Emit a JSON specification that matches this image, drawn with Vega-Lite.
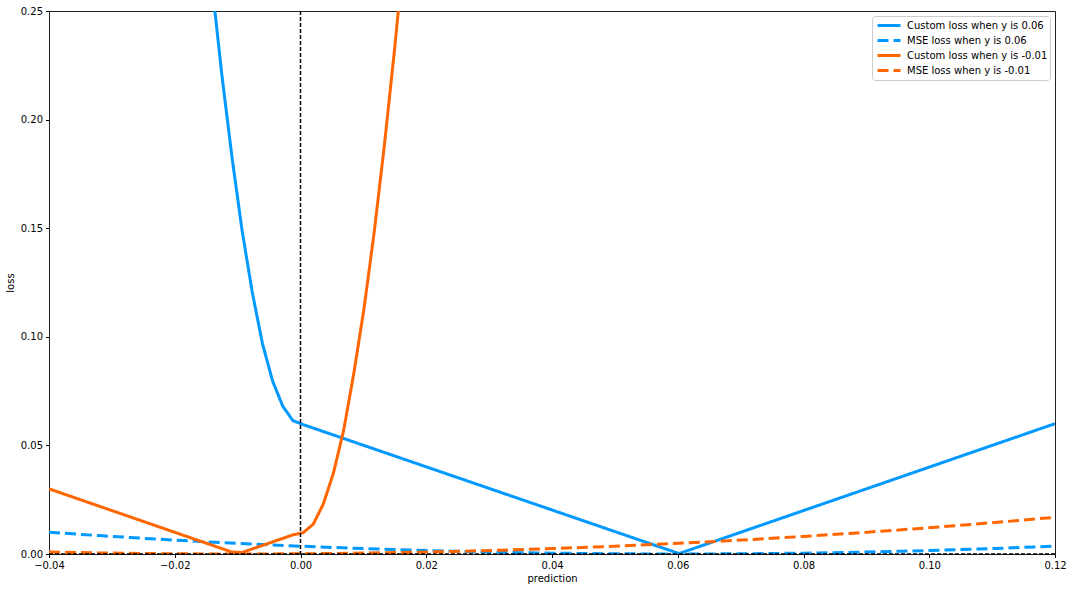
{
  "$schema": "https://vega.github.io/schema/vega-lite/v6.json",
  "width": 1006,
  "height": 543,
  "autosize": {"type": "none"},
  "padding": {"left": 49, "top": 11, "right": 17, "bottom": 38},
  "background": "white",
  "config": {
    "font": "DejaVu Sans",
    "view": {"stroke": "#222", "strokeWidth": 1},
    "axis": {
      "grid": false,
      "domain": false,
      "tickColor": "black",
      "tickSize": 3.5,
      "tickWidth": 1,
      "labelFontSize": 10,
      "labelColor": "black",
      "labelPadding": 3,
      "labelFlush": false,
      "labelOverlap": false,
      "titleFontSize": 10,
      "titleFontWeight": "normal",
      "titleColor": "black"
    },
    "legend": {
      "labelFontSize": 10,
      "labelColor": "black",
      "symbolStrokeWidth": 3,
      "symbolType": "stroke",
      "symbolSize": 529,
      "symbolOffset": 2,
      "rowPadding": 0,
      "clipHeight": 15,
      "fillColor": "rgba(255,255,255,0.8)",
      "strokeColor": "#cccccc",
      "cornerRadius": 3,
      "padding": 2,
      "labelOffset": 5
    }
  },
  "layer": [
    {
      "data": {
        "values": [
          {"series": "Custom loss when y is 0.06", "prediction": -0.0141414, "loss": 0.264},
          {"series": "Custom loss when y is 0.06", "prediction": -0.0125253, "loss": 0.221},
          {"series": "Custom loss when y is 0.06", "prediction": -0.0109091, "loss": 0.183},
          {"series": "Custom loss when y is 0.06", "prediction": -0.0092929, "loss": 0.149},
          {"series": "Custom loss when y is 0.06", "prediction": -0.0076768, "loss": 0.1206},
          {"series": "Custom loss when y is 0.06", "prediction": -0.0060606, "loss": 0.097},
          {"series": "Custom loss when y is 0.06", "prediction": -0.0044444, "loss": 0.0797},
          {"series": "Custom loss when y is 0.06", "prediction": -0.0028283, "loss": 0.0681},
          {"series": "Custom loss when y is 0.06", "prediction": -0.0012121, "loss": 0.0614},
          {"series": "Custom loss when y is 0.06", "prediction": 0.000404, "loss": 0.0596},
          {"series": "Custom loss when y is 0.06", "prediction": 0.060202, "loss": 0.0002},
          {"series": "Custom loss when y is 0.06", "prediction": 0.12, "loss": 0.06},

          {"series": "MSE loss when y is 0.06", "prediction": -0.04, "loss": 0.01},
          {"series": "MSE loss when y is 0.06", "prediction": -0.032, "loss": 0.008464},
          {"series": "MSE loss when y is 0.06", "prediction": -0.024, "loss": 0.007056},
          {"series": "MSE loss when y is 0.06", "prediction": -0.016, "loss": 0.005776},
          {"series": "MSE loss when y is 0.06", "prediction": -0.008, "loss": 0.004624},
          {"series": "MSE loss when y is 0.06", "prediction": 0.0, "loss": 0.0036},
          {"series": "MSE loss when y is 0.06", "prediction": 0.008, "loss": 0.002704},
          {"series": "MSE loss when y is 0.06", "prediction": 0.016, "loss": 0.001936},
          {"series": "MSE loss when y is 0.06", "prediction": 0.024, "loss": 0.001296},
          {"series": "MSE loss when y is 0.06", "prediction": 0.032, "loss": 0.000784},
          {"series": "MSE loss when y is 0.06", "prediction": 0.04, "loss": 0.0004},
          {"series": "MSE loss when y is 0.06", "prediction": 0.048, "loss": 0.000144},
          {"series": "MSE loss when y is 0.06", "prediction": 0.056, "loss": 0.000016},
          {"series": "MSE loss when y is 0.06", "prediction": 0.064, "loss": 0.000016},
          {"series": "MSE loss when y is 0.06", "prediction": 0.072, "loss": 0.000144},
          {"series": "MSE loss when y is 0.06", "prediction": 0.08, "loss": 0.0004},
          {"series": "MSE loss when y is 0.06", "prediction": 0.088, "loss": 0.000784},
          {"series": "MSE loss when y is 0.06", "prediction": 0.096, "loss": 0.001296},
          {"series": "MSE loss when y is 0.06", "prediction": 0.104, "loss": 0.001936},
          {"series": "MSE loss when y is 0.06", "prediction": 0.112, "loss": 0.002704},
          {"series": "MSE loss when y is 0.06", "prediction": 0.12, "loss": 0.0036},

          {"series": "Custom loss when y is -0.01", "prediction": -0.04, "loss": 0.03},
          {"series": "Custom loss when y is -0.01", "prediction": -0.0109091, "loss": 0.0009},
          {"series": "Custom loss when y is -0.01", "prediction": -0.0092929, "loss": 0.0007},
          {"series": "Custom loss when y is -0.01", "prediction": -0.0012121, "loss": 0.0088},
          {"series": "Custom loss when y is -0.01", "prediction": 0.000404, "loss": 0.0098},
          {"series": "Custom loss when y is -0.01", "prediction": 0.0020202, "loss": 0.0137},
          {"series": "Custom loss when y is -0.01", "prediction": 0.0036364, "loss": 0.0231},
          {"series": "Custom loss when y is -0.01", "prediction": 0.0052525, "loss": 0.0374},
          {"series": "Custom loss when y is -0.01", "prediction": 0.0068687, "loss": 0.057},
          {"series": "Custom loss when y is -0.01", "prediction": 0.0084848, "loss": 0.0833},
          {"series": "Custom loss when y is -0.01", "prediction": 0.010101, "loss": 0.113},
          {"series": "Custom loss when y is -0.01", "prediction": 0.0117172, "loss": 0.148},
          {"series": "Custom loss when y is -0.01", "prediction": 0.0133333, "loss": 0.188},
          {"series": "Custom loss when y is -0.01", "prediction": 0.0149495, "loss": 0.232},
          {"series": "Custom loss when y is -0.01", "prediction": 0.0165657, "loss": 0.28},

          {"series": "MSE loss when y is -0.01", "prediction": -0.04, "loss": 0.0009},
          {"series": "MSE loss when y is -0.01", "prediction": -0.032, "loss": 0.000484},
          {"series": "MSE loss when y is -0.01", "prediction": -0.024, "loss": 0.000196},
          {"series": "MSE loss when y is -0.01", "prediction": -0.016, "loss": 0.000036},
          {"series": "MSE loss when y is -0.01", "prediction": -0.008, "loss": 0.000004},
          {"series": "MSE loss when y is -0.01", "prediction": 0.0, "loss": 0.0001},
          {"series": "MSE loss when y is -0.01", "prediction": 0.008, "loss": 0.000324},
          {"series": "MSE loss when y is -0.01", "prediction": 0.016, "loss": 0.000676},
          {"series": "MSE loss when y is -0.01", "prediction": 0.024, "loss": 0.001156},
          {"series": "MSE loss when y is -0.01", "prediction": 0.032, "loss": 0.001764},
          {"series": "MSE loss when y is -0.01", "prediction": 0.04, "loss": 0.0025},
          {"series": "MSE loss when y is -0.01", "prediction": 0.048, "loss": 0.003364},
          {"series": "MSE loss when y is -0.01", "prediction": 0.056, "loss": 0.004356},
          {"series": "MSE loss when y is -0.01", "prediction": 0.064, "loss": 0.005476},
          {"series": "MSE loss when y is -0.01", "prediction": 0.072, "loss": 0.006724},
          {"series": "MSE loss when y is -0.01", "prediction": 0.08, "loss": 0.0081},
          {"series": "MSE loss when y is -0.01", "prediction": 0.088, "loss": 0.009604},
          {"series": "MSE loss when y is -0.01", "prediction": 0.096, "loss": 0.011236},
          {"series": "MSE loss when y is -0.01", "prediction": 0.104, "loss": 0.012996},
          {"series": "MSE loss when y is -0.01", "prediction": 0.112, "loss": 0.014884},
          {"series": "MSE loss when y is -0.01", "prediction": 0.12, "loss": 0.0169}
        ]
      },
      "mark": {"type": "line", "strokeWidth": 3, "clip": true, "strokeJoin": "round"},
      "encoding": {
        "x": {
          "field": "prediction",
          "type": "quantitative",
          "scale": {"domain": [-0.04, 0.12], "nice": false, "zero": false},
          "axis": {"values": [-0.04, -0.02, 0, 0.02, 0.04, 0.06, 0.08, 0.1, 0.12], "format": ".2f", "title": "prediction", "titlePadding": 3}
        },
        "y": {
          "field": "loss",
          "type": "quantitative",
          "scale": {"domain": [0, 0.25], "nice": false},
          "axis": {"values": [0, 0.05, 0.1, 0.15, 0.2, 0.25], "format": ".2f", "title": "loss", "titlePadding": 5}
        },
        "color": {
          "field": "series",
          "type": "nominal",
          "scale": {
            "domain": ["Custom loss when y is 0.06", "MSE loss when y is 0.06", "Custom loss when y is -0.01", "MSE loss when y is -0.01"],
            "range": ["#0099ff", "#0099ff", "#ff6600", "#ff6600"]
          },
          "legend": {"title": null, "orient": "top-right", "offset": 5}
        },
        "strokeDash": {
          "field": "series",
          "type": "nominal",
          "scale": {
            "domain": ["Custom loss when y is 0.06", "MSE loss when y is 0.06", "Custom loss when y is -0.01", "MSE loss when y is -0.01"],
            "range": [[1, 0], [11, 5], [1, 0], [11, 5]]
          },
          "legend": {"title": null, "orient": "top-right", "offset": 5}
        }
      }
    },
    {
      "data": {"values": [{"x": 0}]},
      "mark": {"type": "rule", "color": "black", "strokeWidth": 1.5, "strokeDash": [4, 2]},
      "encoding": {"x": {"field": "x", "type": "quantitative"}}
    },
    {
      "data": {"values": [{"y": 0}]},
      "mark": {"type": "rule", "color": "black", "strokeWidth": 1.5, "strokeDash": [4, 2]},
      "encoding": {"y": {"field": "y", "type": "quantitative"}}
    }
  ]
}
